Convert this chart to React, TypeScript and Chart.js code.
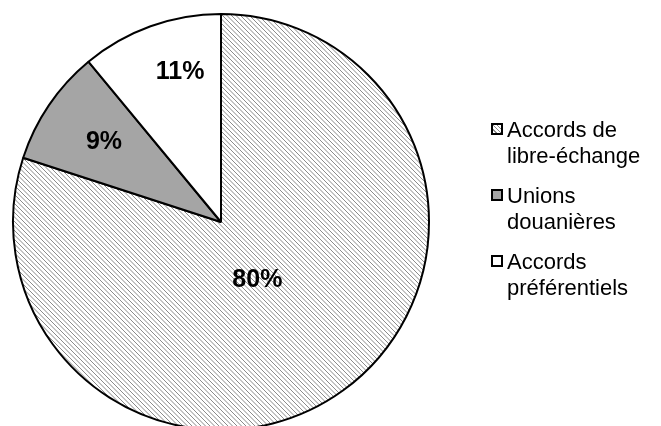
import React, { useEffect, useRef } from "react";
import { Chart, registerables } from "chart.js";

Chart.register(...registerables);

// Share of agreements by type (%)
const categories = ["Accords de libre-échange", "Unions douanières", "Accords préférentiels"];
const legendLines = [
  ["Accords de", "libre-échange"],
  ["Unions", "douanières"],
  ["Accords", "préférentiels"],
];
const shares = [80, 9, 11];

// Placement of each percentage label: fraction of the radius and a small angular nudge (degrees)
const labelRadius = [0.33, 0.68, 0.745];
const labelAngleShift = [4, 0, 4.5];

const GREY = "#a5a5a5";
const FONT = '"Liberation Sans", Arial, Helvetica, sans-serif';

function makeHatch(ctx: CanvasRenderingContext2D): CanvasPattern {
  const size = 9;
  const c = document.createElement("canvas");
  c.width = size;
  c.height = size;
  const g = c.getContext("2d")!;
  g.fillStyle = "#ffffff";
  g.fillRect(0, 0, size, size);
  g.strokeStyle = "#8a8a8a";
  g.lineWidth = 1;
  for (const off of [-9, -4.5, 0, 4.5, 9]) {
    g.beginPath();
    g.moveTo(off, 0);
    g.lineTo(off + size, size);
    g.stroke();
  }
  return ctx.createPattern(c, "repeat")!;
}

const sliceLabels = {
  id: "sliceLabels",
  afterDatasetsDraw(chart: any) {
    const ctx = chart.ctx as CanvasRenderingContext2D;
    const meta = chart.getDatasetMeta(0);
    meta.data.forEach((arc: any, i: number) => {
      const { x, y, startAngle, endAngle, outerRadius } = arc.getProps(
        ["x", "y", "startAngle", "endAngle", "outerRadius"],
        true
      );
      const mid = (startAngle + endAngle) / 2 + (labelAngleShift[i] * Math.PI) / 180;
      const r = outerRadius * labelRadius[i];
      ctx.save();
      ctx.font = `bold 25px ${FONT}`;
      ctx.textAlign = "center";
      ctx.textBaseline = "middle";
      ctx.fillStyle = "#000";
      ctx.fillText(`${shares[i]}%`, x + Math.cos(mid) * r, y + Math.sin(mid) * r);
      ctx.restore();
    });
  },
};

const swatchStyles: React.CSSProperties[] = [
  {
    background:
      "repeating-linear-gradient(45deg, #ffffff 0px, #ffffff 2px, #8a8a8a 2px, #8a8a8a 3px)",
  },
  { background: GREY },
  { background: "#ffffff" },
];

export default function App() {
  const canvasRef = useRef<HTMLCanvasElement | null>(null);

  useEffect(() => {
    const canvas = canvasRef.current!;
    const ctx = canvas.getContext("2d")!;
    const hatch = makeHatch(ctx);
    const chart = new Chart(ctx, {
      type: "pie",
      data: {
        labels: categories,
        datasets: [
          {
            data: shares,
            backgroundColor: [hatch, GREY, "#ffffff"],
            borderColor: "#000000",
            borderWidth: 2,
          },
        ],
      },
      options: {
        responsive: false,
        animation: false,
        devicePixelRatio: 1,
        radius: 208,
        layout: { padding: { left: 0, right: 219, top: 18, bottom: 0 } },
        plugins: {
          legend: { display: false },
          tooltip: { enabled: false },
        },
      },
      plugins: [sliceLabels],
    });
    return () => chart.destroy();
  }, []);

  return (
    <div
      style={{
        position: "absolute",
        left: 0,
        top: 0,
        width: 661,
        height: 426,
        background: "#ffffff",
        overflow: "hidden",
      }}
    >
      <canvas ref={canvasRef} width={661} height={426} style={{ display: "block" }} />
      {legendLines.map((lines, i) => (
        <div
          key={i}
          style={{
            position: "absolute",
            left: 507,
            top: 117 + i * 66,
            fontFamily: FONT,
            fontSize: 22,
            lineHeight: "26px",
            color: "#000",
            whiteSpace: "nowrap",
          }}
        >
          <span
            style={{
              position: "absolute",
              left: -16,
              top: 6,
              width: 8,
              height: 8,
              border: "2px solid #000",
              ...swatchStyles[i],
            }}
          />
          {lines.map((t, j) => (
            <div key={j}>{t}</div>
          ))}
        </div>
      ))}
    </div>
  );
}
